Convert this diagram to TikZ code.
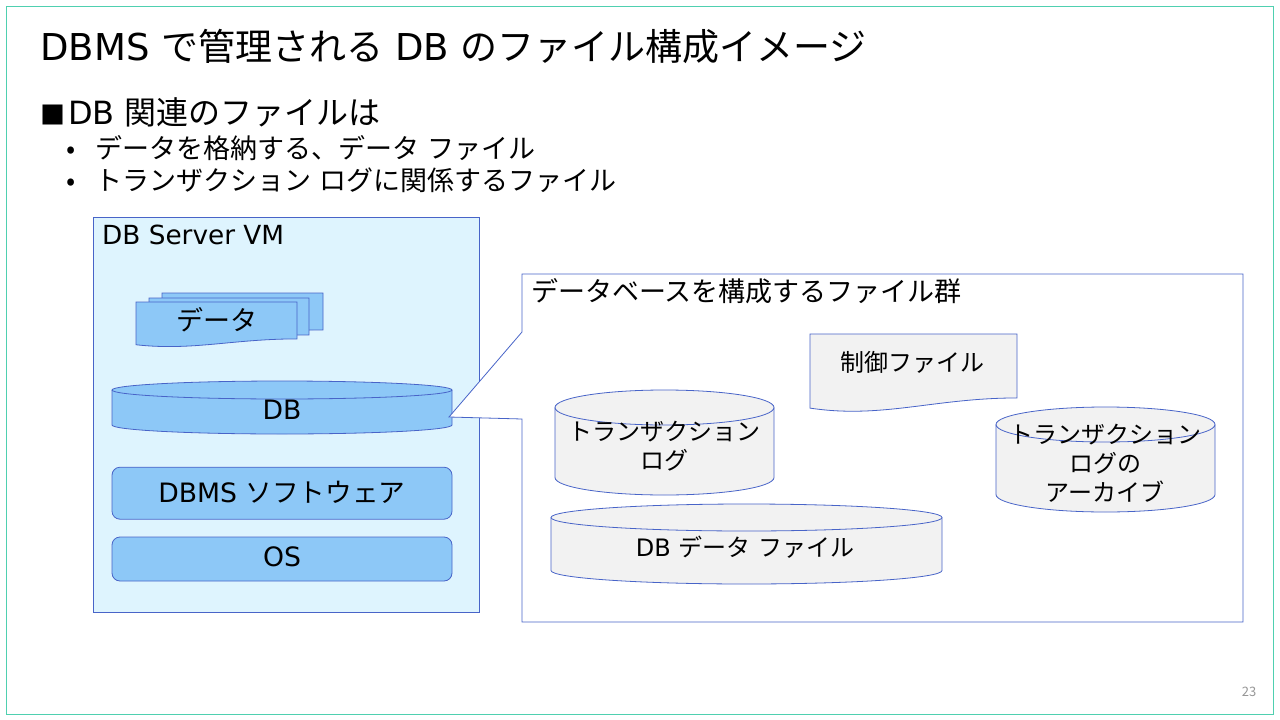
\documentclass[tikz,border=0pt]{standalone}
\usepackage{fontspec}
\usepackage{xcolor}
\setmainfont{Noto Sans CJK JP}
\newfontfamily\latinfont{DejaVu Sans}
\usetikzlibrary{positioning}
\definecolor{slideteal}{RGB}{79,208,176}
\definecolor{edgeblue}{RGB}{72,100,200}
\definecolor{vmblue}{RGB}{222,244,254}
\definecolor{partblue}{RGB}{141,200,247}
\definecolor{filegray}{RGB}{242,242,242}
\definecolor{pagegray}{RGB}{150,150,150}
\newcommand{\lat}[1]{{\latinfont #1}}
\newcommand{\docpath}[5]{% x, y, width, height, fill
  \draw[edge, fill=#5] (#1,#2) -- ++(#3,0) -- ++(0,0.82*#4)
    .. controls +(-0.4*#3,0) and +(0.35*#3,0.14*#4) .. (#1,#2+0.95*#4) -- cycle;
}
\newcommand{\drum}[6]{% centre x, top y, x radius, height, y radius, fill
  \draw[edge, fill=#6] (#1-#3,#2+#5) -- (#1-#3,#2+#4-#5)
    arc[start angle=180, end angle=360, x radius=#3pt, y radius=#5pt]
    -- (#1+#3,#2+#5) arc[start angle=0, end angle=180, x radius=#3pt, y radius=#5pt] -- cycle;
  \draw[edge] (#1-#3,#2+#5) arc[start angle=180, end angle=360, x radius=#3pt, y radius=#5pt];
}
\begin{document}
\begin{tikzpicture}[
  x=1pt, y=-1pt,
  edge/.style={draw=edgeblue, line width=0.8pt},
  part/.style={edge, rectangle, rounded corners=8pt, fill=partblue,
               minimum width=340pt, inner sep=0pt, font=\fontsize{26.67}{32}\selectfont},
  body/.style={anchor=west, inner sep=0pt, font=\fontsize{27}{32}\selectfont},
  tag/.style={inner sep=0pt, align=center, font=\fontsize{24}{29}\selectfont}
]
  \useasboundingbox (0,0) rectangle (1280,720);
  \draw[slideteal, line width=0.8pt] (6.5,6.5) rectangle (1273.5,714.5);

  % Title and list
  \node[body, font=\fontsize{37}{42}\selectfont] (title) at (40,46) {\lat{DBMS }で管理される\lat{ DB }のファイル構成イメージ};
  \node[body, font=\fontsize{32}{36}\selectfont] (lead) at (40,112) {\makebox[28pt][l]{\fontsize{25}{25}\selectfont ■}\lat{DB }関連のファイルは};
  \node[body] (item1) at (66,148) {\makebox[29pt][l]{•}データを格納する、データ\lat{ }ファイル};
  \node[body] (item2) at (66,180) {\makebox[29pt][l]{•}トランザクション\lat{ }ログに関係するファイル};

  % Server side
  \node[edge, fill=vmblue, minimum width=386pt, minimum height=395pt, inner sep=0pt] (vm) at (286,414.5) {};
  \node[body, font=\fontsize{26.3}{32}\selectfont] (vmlabel) at (102,234.5) {\lat{DB Server VM}};
  \docpath{162}{293}{161}{45}{partblue}
  \docpath{149}{298}{160}{45}{partblue}
  \docpath{136}{302}{161}{45}{partblue}
  \node[body, anchor=center] (datalabel) at (216.5,320) {データ};
  \drum{282}{381}{170}{53}{9}{partblue}
  \node[body, anchor=center, font=\fontsize{26.67}{32}\selectfont] (db) at (282,410) {\lat{DB}};
  \node[part, minimum height=44pt] (os) at (282,559) {\raisebox{4pt}{\lat{OS}}};
  \node[part, minimum height=52pt, above=17pt of os] (dbms) {\raisebox{3pt}{\lat{DBMS }ソフトウェア}};

  % Balloon
  \draw[edge, fill=white] (522,274) -- (1243,274) -- (1243,622) -- (522,622)
    -- (522,419) -- (449,417) -- (522,332) -- cycle;
  \node[body] (groupname) at (531,291) {データベースを構成するファイル群};

  % Files
  \docpath{810}{334}{207}{78}{filegray}
  \node[tag] (ctrl) at (912.5,362) {制御ファイル};
  \drum{664.5}{390}{109.5}{105}{17.5}{filegray}
  \node[tag] (txlog) at (664,446.5) {トランザクション\\ログ};
  \drum{1105.5}{407}{109.5}{105}{17.5}{filegray}
  \node[tag] (archive) at (1105,463.5) {トランザクション\\ログの\\アーカイブ};
  \drum{746.5}{504}{195.5}{80}{13.5}{filegray}
  \node[tag] (datafile) at (745,547) {\lat{DB }データ\lat{ }ファイル};

  \node[inner sep=0pt, text=pagegray, font=\fontsize{13}{15}\selectfont] (pageno) at (1249,692) {23};
\end{tikzpicture}
\end{document}
